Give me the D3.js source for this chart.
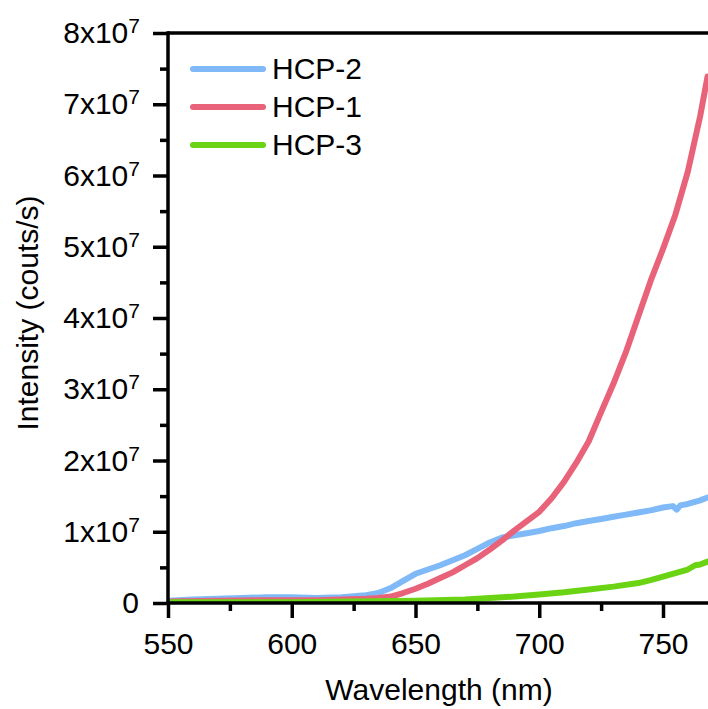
<!DOCTYPE html>
<html>
<head>
<meta charset="utf-8">
<script src="https://cdn.jsdelivr.net/npm/d3@7"></script>
<style>
  html, body { margin: 0; padding: 0; background: #fff; overflow: hidden; }
  svg { display: block; }
  text { font-family: "Liberation Sans", Arial, sans-serif; fill: #000; }
</style>
</head>
<body>
<svg id="chart" width="708" height="709"></svg>
<script>
// ---- data (wavelength nm, intensity in units of 1e7 counts/s) ----
const seriesNames = ["HCP-2", "HCP-1", "HCP-3"];
const seriesColors = ["#80b9f7", "#e8627a", "#6ad414"];

const hcp2 = [
  [550,0.03],[560,0.05],[570,0.06],[580,0.07],[590,0.08],[600,0.08],[610,0.07],[620,0.08],
  [630,0.11],[635,0.14],[640,0.21],[645,0.31],[650,0.41],[655,0.47],[660,0.53],[665,0.60],
  [670,0.67],[675,0.76],[680,0.85],[685,0.92],[690,0.95],[695,0.98],[700,1.01],[705,1.05],
  [710,1.08],[715,1.12],[720,1.15],[725,1.18],[730,1.21],[735,1.24],[740,1.27],[745,1.30],
  [750,1.34],[754,1.36],[755.5,1.31],[757,1.37],[760,1.39],[765,1.44],[768,1.48]
];
const hcp1 = [
  [550,0.02],[570,0.03],[590,0.04],[600,0.04],[610,0.04],[620,0.05],[630,0.06],[635,0.07],
  [640,0.09],[645,0.14],[650,0.20],[655,0.27],[660,0.35],[665,0.43],[670,0.53],[675,0.63],
  [680,0.75],[685,0.88],[690,1.02],[695,1.15],[700,1.28],[705,1.47],[710,1.70],[715,1.97],
  [720,2.27],[725,2.68],[730,3.08],[735,3.52],[740,4.02],[745,4.52],[750,4.97],[755,5.45],
  [760,6.05],[765,6.83],[768,7.39]
];
const hcp3 = [
  [550,0.01],[600,0.01],[650,0.03],[670,0.05],[680,0.07],[690,0.09],[700,0.12],[710,0.15],
  [720,0.19],[730,0.23],[740,0.28],[745,0.32],[750,0.37],[755,0.42],[760,0.47],[763,0.53],
  [765,0.54],[768,0.58]
];
const seriesData = [hcp2, hcp1, hcp3];

const xTicks = [550, 600, 650, 700, 750];
const xMinorTicks = [575, 625, 675, 725];
const yTicks = [0, 1, 2, 3, 4, 5, 6, 7, 8];
const yMinorTicks = [0.5, 1.5, 2.5, 3.5, 4.5, 5.5, 6.5, 7.5];

// ---- layout ----
const svg = d3.select("#chart");
const pL = 168, pR = 786.75, pT = 33, pB = 603;
const x = d3.scaleLinear().domain([550, 800]).range([pL, pR]);
const y = d3.scaleLinear().domain([0, 8]).range([pB, pT]);

svg.append("defs").append("clipPath").attr("id", "plotclip")
  .append("rect").attr("x", pL).attr("y", pT).attr("width", pR - pL).attr("height", pB - pT);

// data lines
const line = d3.line().x(d => x(d[0])).y(d => y(d[1]));
const plot = svg.append("g").attr("clip-path", "url(#plotclip)");
seriesData.forEach((s, i) => {
  plot.append("path").datum(s)
    .attr("d", line)
    .attr("fill", "none")
    .attr("stroke", seriesColors[i])
    .attr("stroke-width", 6)
    .attr("stroke-linejoin", "round")
    .attr("stroke-linecap", "round");
});

// frame
const axW = 3.5;
svg.append("line").attr("x1", pL).attr("x2", pR).attr("y1", pT).attr("y2", pT)
  .attr("stroke", "#000").attr("stroke-width", axW);
svg.append("line").attr("x1", pR).attr("x2", pR).attr("y1", pT).attr("y2", pB)
  .attr("stroke", "#000").attr("stroke-width", axW);

// x axis
const xAxis = d3.axisBottom(x).tickValues(xTicks).tickSize(15).tickSizeOuter(0).tickFormat(d3.format("d"));
const gx = svg.append("g").attr("transform", `translate(0,${pB})`).call(xAxis);
gx.select(".domain").attr("stroke", "#000").attr("stroke-width", axW)
  .attr("d", `M${pL - 1.75},0H${pR + 1.75}`);
gx.selectAll(".tick line").attr("stroke", "#000").attr("stroke-width", axW);
gx.selectAll(".tick text").attr("font-size", 30).attr("y", 0).attr("dy", 0)
  .attr("transform", "translate(0,51)")
  .style("font-family", "'Liberation Sans', Arial, sans-serif").attr("fill", "#000");
const gxm = svg.append("g").attr("transform", `translate(0,${pB})`)
  .call(d3.axisBottom(x).tickValues(xMinorTicks).tickSize(8).tickSizeOuter(0).tickFormat(""));
gxm.select(".domain").remove();
gxm.selectAll(".tick line").attr("stroke", "#000").attr("stroke-width", axW);

// y axis
const yAxis = d3.axisLeft(y).tickValues(yTicks).tickSize(15).tickSizeOuter(0).tickFormat("");
const gy = svg.append("g").attr("transform", `translate(${pL},0)`).call(yAxis);
gy.select(".domain").attr("stroke", "#000").attr("stroke-width", axW)
  .attr("d", `M0,${pB + 1.75}V${pT - 1.75}`);
gy.selectAll(".tick line").attr("stroke", "#000").attr("stroke-width", axW);
const gym = svg.append("g").attr("transform", `translate(${pL},0)`)
  .call(d3.axisLeft(y).tickValues(yMinorTicks).tickSize(8).tickSizeOuter(0).tickFormat(""));
gym.select(".domain").remove();
gym.selectAll(".tick line").attr("stroke", "#000").attr("stroke-width", axW);

// y tick labels with superscript exponents
yTicks.forEach(v => {
  const t = svg.append("text")
    .attr("x", v === 0 ? 139 : 140)
    .attr("y", y(v) + 10)
    .attr("text-anchor", "end")
    .attr("font-size", 30);
  if (v === 0) {
    t.text("0");
  } else {
    t.append("tspan").text(v + "x10");
    t.append("tspan").attr("font-size", 21).attr("dy", -10).text("7");
  }
});

// axis titles
svg.append("text").attr("x", 439).attr("y", 700).attr("text-anchor", "middle")
  .attr("font-size", 30).text("Wavelength (nm)");
svg.append("text").attr("transform", "translate(38,313) rotate(-90)")
  .attr("text-anchor", "middle").attr("font-size", 30).text("Intensity (couts/s)");

// legend
const legendY = [69, 107, 145];
seriesNames.forEach((n, i) => {
  svg.append("line").attr("x1", 193).attr("x2", 263)
    .attr("y1", legendY[i]).attr("y2", legendY[i])
    .attr("stroke", seriesColors[i]).attr("stroke-width", 6).attr("stroke-linecap", "round");
  svg.append("text").attr("x", 272).attr("y", legendY[i] + 10)
    .attr("font-size", 30).text(n);
});
</script>
</body>
</html>
